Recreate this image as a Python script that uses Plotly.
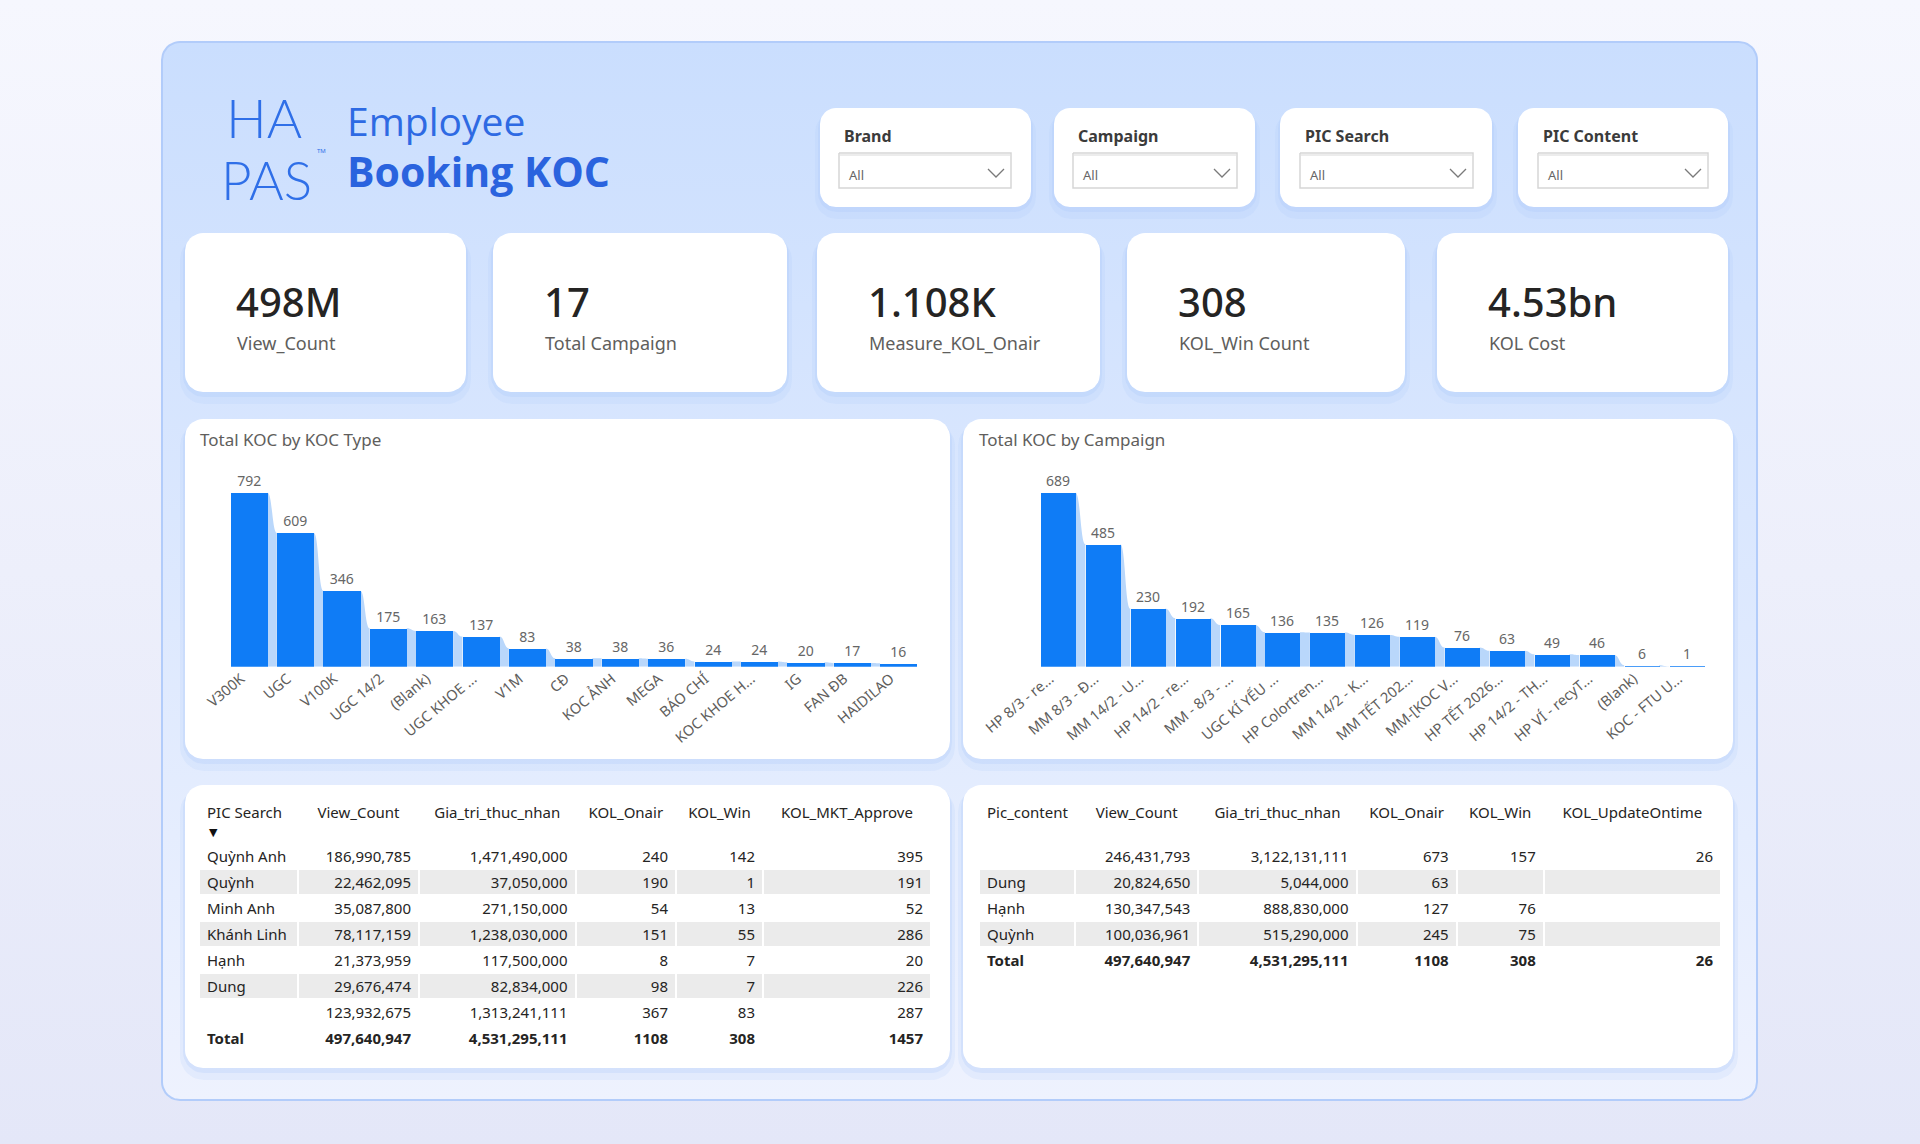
import math
import plotly.graph_objects as go

W, H = 1920, 1144

# ---------------- data ----------------
koc_types = ["V300K", "UGC", "V100K", "UGC 14/2", "(Blank)", "UGC KHOE ...", "V1M", "CĐ",
             "KOC ẢNH", "MEGA", "BÁO CHÍ", "KOC KHOE H...", "IG", "FAN ĐB", "HAIDILAO"]
koc_type_counts = [792, 609, 346, 175, 163, 137, 83, 38, 38, 36, 24, 24, 20, 17, 16]

campaigns = ["HP 8/3 - re...", "MM 8/3 - Đ...", "MM 14/2 - U...", "HP 14/2 - re...", "MM - 8/3 - ...",
             "UGC KÍ YẾU ...", "HP Colortren...", "MM 14/2 - K...", "MM TẾT 202...", "MM-[KOC V...",
             "HP TẾT 2026...", "HP 14/2 - TH...", "HP VÍ - recyT...", "(Blank)", "KOC - FTU U..."]
campaign_counts = [689, 485, 230, 192, 165, 136, 135, 126, 119, 76, 63, 49, 46, 6, 1]

kpi_values = ["498M", "17", "1.108K", "308", "4.53bn"]
kpi_labels = ["View_Count", "Total Campaign", "Measure_KOL_Onair", "KOL_Win Count", "KOL Cost"]

slicer_titles = ["Brand", "Campaign", "PIC Search", "PIC Content"]
slicer_value = "All"

ps_headers = ["PIC Search", "View_Count", "Gia_tri_thuc_nhan", "KOL_Onair", "KOL_Win", "KOL_MKT_Approve"]
ps_names = ["Qu\u1ef3nh Anh", "Qu\u1ef3nh", "Minh Anh", "Khánh Linh", "H\u1ea1nh", "Dung", ""]
ps_view = [186990785, 22462095, 35087800, 78117159, 21373959, 29676474, 123932675]
ps_gia = [1471490000, 37050000, 271150000, 1238030000, 117500000, 82834000, 1313241111]
ps_onair = [240, 190, 54, 151, 8, 98, 367]
ps_win = [142, 1, 13, 55, 7, 7, 83]
ps_approve = [395, 191, 52, 286, 20, 226, 287]
ps_total = [497640947, 4531295111, 1108, 308, 1457]

pc_headers = ["Pic_content", "View_Count", "Gia_tri_thuc_nhan", "KOL_Onair", "KOL_Win", "KOL_UpdateOntime"]
pc_names = ["", "Dung", "H\u1ea1nh", "Qu\u1ef3nh"]
pc_view = [246431793, 20824650, 130347543, 100036961]
pc_gia = [3122131111, 5044000, 888830000, 515290000]
pc_onair = [673, 63, 127, 245]
pc_win = [157, None, 76, 75]
pc_update = [26, None, None, None]
pc_total = [497640947, 4531295111, 1108, 308, 26]

# ---------------- styling ----------------
FONT = "Noto Sans"
BAR_BLUE = "#0f7cf6"
RIBBON = "#b9d7fb"
TXT = "#252423"
SUB = "#605e5c"


def rrect(x0, y0, x1, y1, r, n=10):
    pts = []
    corners = [(x1 - r, y0 + r, -90, 0), (x1 - r, y1 - r, 0, 90),
               (x0 + r, y1 - r, 90, 180), (x0 + r, y0 + r, 180, 270)]
    for cx, cy, a0, a1 in corners:
        for k in range(n + 1):
            a = math.radians(a0 + (a1 - a0) * k / n)
            pts.append((cx + r * math.cos(a), cy + r * math.sin(a)))
    pts.append(pts[0])
    return [p[0] for p in pts], [p[1] for p in pts]


fig = go.Figure()


def poly(xs, ys, fill=None, line=None, lw=0, grad=None):
    kw = dict(x=xs, y=ys, mode="lines", fill="toself", hoverinfo="skip", showlegend=False,
              xaxis="x", yaxis="y", line=dict(color=line or "rgba(0,0,0,0)", width=lw))
    if grad is not None:
        kw["fillgradient"] = grad
    else:
        kw["fillcolor"] = fill
    fig.add_trace(go.Scatter(**kw))


# page background
poly([0, W, W, 0, 0], [0, 0, H, H, 0],
     grad=dict(type="vertical", start=0, stop=H, colorscale=[[0, "#f6f7fe"], [1, "#e4e7f8"]]))

# container
cx, cy = rrect(162, 42, 1757, 1100, 18)
poly(cx, cy, line="#b2ccfa", lw=2,
     grad=dict(type="vertical", start=42, stop=1100, colorscale=[[0, "#cadefe"], [1, "#eef2fe"]]))


def card(x0, y0, x1, y1, r=18):
    sx, sy = rrect(x0 - 5, y0 + 3, x1 + 5, y1 + 12, r + 6)
    poly(sx, sy, fill="rgba(165,198,250,0.16)")
    sx, sy = rrect(x0 - 2, y0 + 1, x1 + 2, y1 + 5, r + 3)
    poly(sx, sy, fill="rgba(165,198,250,0.22)")
    px, py = rrect(x0, y0, x1, y1, r)
    poly(px, py, fill="#ffffff")


slicer_boxes = [(820, 108, 1031, 207), (1054, 108, 1255, 207), (1280, 108, 1492, 207), (1518, 108, 1728, 207)]
dropdowns = [(839, 153, 1011, 188), (1073, 153, 1237, 188), (1300, 153, 1473, 188), (1538, 153, 1708, 188)]
kpi_boxes = [(185, 233, 466, 392), (493, 233, 787, 392), (817, 233, 1100, 392), (1127, 233, 1405, 392),
             (1437, 233, 1728, 392)]
chart_boxes = [(185, 419, 950, 759), (963, 419, 1733, 759)]
table_boxes = [(185, 785, 950, 1068), (963, 785, 1733, 1068)]

for b in slicer_boxes:
    card(*b, r=16)
for b in kpi_boxes + chart_boxes + table_boxes:
    card(*b, r=18)

for (x0, y0, x1, y1) in dropdowns:
    poly([x0, x1, x1, x0, x0], [y0, y0, y1, y1, y0], fill="#ffffff", line="#d6d6d6", lw=1.5)
    fig.add_trace(go.Scatter(x=[x0 + 1, x1 - 1], y=[y0 + 2, y0 + 2], mode="lines", hoverinfo="skip",
                             showlegend=False, line=dict(color="#ececec", width=2), xaxis="x", yaxis="y"))
    fig.add_trace(go.Scatter(x=[x1 - 23, x1 - 15, x1 - 7], y=[169, 177, 169], mode="lines", hoverinfo="skip",
                             showlegend=False, line=dict(color="#7a7a7a", width=1.3), xaxis="x", yaxis="y"))

annotations = []


def txt(x, y, s, size, color, xanchor="left", family=FONT, weight=None, yanchor="middle"):
    f = dict(family=family, size=size, color=color)
    if weight:
        f["weight"] = weight
    annotations.append(dict(x=x / W, y=1 - y / H, xref="paper", yref="paper", text=s, showarrow=False,
                            xanchor=xanchor, yanchor=yanchor, font=f))


# logo and title
txt(264, 117, "HA", 54, "#2f6fe8", xanchor="center", family="Lato", weight=300)
txt(266, 179, "PAS", 53, "#2f6fe8", xanchor="center", family="Lato", weight=300)
txt(321, 151, "TM", 6, "#2f6fe8", xanchor="center")
txt(345, 121, "Employee", 39, "#2e6ae3", family="Open Sans")
txt(345, 171, "<b>Booking KOC</b>", 41, "#2a63de", family="Open Sans")

for t, (x0, y0, x1, y1) in zip(slicer_titles, dropdowns):
    txt(x0 + 3, 136, "<b>" + t + "</b>", 16, "#3b3b3b")
    txt(x0 + 8, 175, slicer_value, 13, "#666666")

for v, l, (x0, y0, x1, y1) in zip(kpi_values, kpi_labels, kpi_boxes):
    txt(x0 + 49, 302, v, 40, TXT, weight=500)
    txt(x0 + 50, 343, l, 18, SUB)

txt(198, 440, "Total KOC by KOC Type", 17, SUB)
txt(977, 440, "Total KOC by Campaign", 17, SUB)

# sort indicator under "PIC Search"
txt(207, 832, "▼", 11, "#111111", family="DejaVu Sans")

# ---------------- bar charts ----------------
BASE = 666.7
TOP_PER = 174.0
HEAD = 1.15


def chart(names, vals, w, c0, pitch, xa, ya, xkey, ykey):
    n = len(vals)
    xl = c0 - 0.5 * pitch
    xr = c0 + (n - 0.5) * pitch
    ytop = BASE - TOP_PER * HEAD
    fig.add_trace(go.Bar(x=list(range(n)), y=vals, width=w, marker=dict(color=BAR_BLUE, line=dict(width=0)),
                         text=[str(v) for v in vals], textposition="outside", cliponaxis=False,
                         textfont=dict(family=FONT, size=14, color="#666666"), hoverinfo="skip",
                         showlegend=False, xaxis=xa, yaxis=ya))
    fig.layout[xkey] = dict(domain=[xl / W, xr / W], range=[-0.5, n - 0.5], anchor=ya, showgrid=False,
                            zeroline=False, showline=False, ticks="", tickmode="array", automargin=False,
                            tickvals=list(range(n)), ticktext=names, tickangle=-40, ticklabelshift=-8,
                            tickfont=dict(family=FONT, size=14.5, color=SUB), fixedrange=True)
    fig.layout[ykey] = dict(domain=[1 - BASE / H, 1 - ytop / H], range=[0, max(vals) * HEAD], anchor=xa,
                            showgrid=False, zeroline=False, showticklabels=False, showline=False,
                            automargin=False, fixedrange=True)
    shapes = []
    for i in range(n - 1):
        a = i + w / 2
        b = i + 1 - w / 2
        m = (a + b) / 2
        path = (f"M {a},0 L {a},{vals[i]} C {m},{vals[i]} {m},{vals[i + 1]} {b},{vals[i + 1]} "
                f"L {b},0 Z")
        shapes.append(dict(type="path", path=path, xref=xa, yref=ya, layer="below",
                           fillcolor=RIBBON, line=dict(width=0)))
    return shapes


shapes = []
shapes += chart(koc_types, koc_type_counts, 0.8, 249.0, 46.4, "x2", "y2", "xaxis2", "yaxis2")
shapes += chart(campaigns, campaign_counts, 0.78, 1058.0, 44.9, "x3", "y3", "xaxis3", "yaxis3")


# ---------------- tables ----------------
def fmt_c(v):
    return "" if v is None else f"{v:,}"


def fmt_p(v):
    return "" if v is None else str(v)


TOP = 798.5
HDR_H = 44
ROW_H = 26


def table(headers, names, cols_fmt, totals_fmt, shaded, x0, x1, widths):
    ncol = len(headers)
    cols = [[s.replace(" ", "\u00a0") for s in names]] + cols_fmt
    nrows = len(names)
    fills = ["#ebebeb" if i in shaded else "#ffffff" for i in range(nrows)]
    hdr = [headers[0].replace(" ", "\u00a0")] + headers[1:]
    body_bottom = TOP + HDR_H + ROW_H * nrows
    fig.add_trace(go.Table(
        domain=dict(x=[x0 / W, x1 / W], y=[1 - (body_bottom + 3) / H, 1 - TOP / H]),
        columnwidth=widths,
        header=dict(values=hdr, align=["left"] + ["center"] * (ncol - 1),
                    font=dict(family=FONT, size=15, color=TXT), fill_color="#ffffff",
                    line=dict(color="#ffffff", width=0), height=HDR_H),
        cells=dict(values=cols, align=["left"] + ["right"] * (ncol - 1),
                   font=dict(family=FONT, size=15, color=TXT), fill_color=[fills] * ncol,
                   line=dict(color="#ffffff", width=2), height=ROW_H),
    ))
    # total row
    fig.add_trace(go.Table(
        domain=dict(x=[x0 / W, x1 / W], y=[1 - (body_bottom + ROW_H + 6) / H, 1 - body_bottom / H]),
        columnwidth=widths,
        header=dict(values=["Total"] + totals_fmt, align=["left"] + ["right"] * (ncol - 1),
                    font=dict(family=FONT, size=15, color=TXT, weight=700), fill_color="#ffffff",
                    line=dict(color="#ffffff", width=0), height=ROW_H),
        cells=dict(values=[[""] for _ in range(ncol)], fill_color="#ffffff",
                   line=dict(color="#ffffff", width=0), height=2),
    ))


table(ps_headers, ps_names,
      [[fmt_c(v) for v in ps_view], [fmt_c(v) for v in ps_gia], [fmt_p(v) for v in ps_onair],
       [fmt_p(v) for v in ps_win], [fmt_p(v) for v in ps_approve]],
      [fmt_c(ps_total[0]), fmt_c(ps_total[1]), fmt_p(ps_total[2]), fmt_p(ps_total[3]), fmt_p(ps_total[4])],
      {1, 3, 5}, 199, 931, [99, 121, 156.5, 100.5, 87, 168])

table(pc_headers, pc_names,
      [[fmt_c(v) for v in pc_view], [fmt_c(v) for v in pc_gia], [fmt_p(v) for v in pc_onair],
       [fmt_p(v) for v in pc_win], [fmt_p(v) for v in pc_update]],
      [fmt_c(pc_total[0]), fmt_c(pc_total[1]), fmt_p(pc_total[2]), fmt_p(pc_total[3]), fmt_p(pc_total[4])],
      {1, 3}, 979, 1721, [96, 123, 158, 100, 87, 177])

fig.update_layout(
    width=W, height=H, autosize=False, margin=dict(l=0, r=0, t=0, b=0, pad=0, autoexpand=False),
    paper_bgcolor="#eceefb", plot_bgcolor="rgba(0,0,0,0)",
    xaxis=dict(domain=[0, 1], range=[0, W], visible=False, fixedrange=True, automargin=False),
    yaxis=dict(domain=[0, 1], range=[H, 0], visible=False, fixedrange=True, automargin=False),
    annotations=annotations, shapes=shapes, showlegend=False, bargap=0,
)

fig.write_html("out.html", config=dict(displayModeBar=False))
